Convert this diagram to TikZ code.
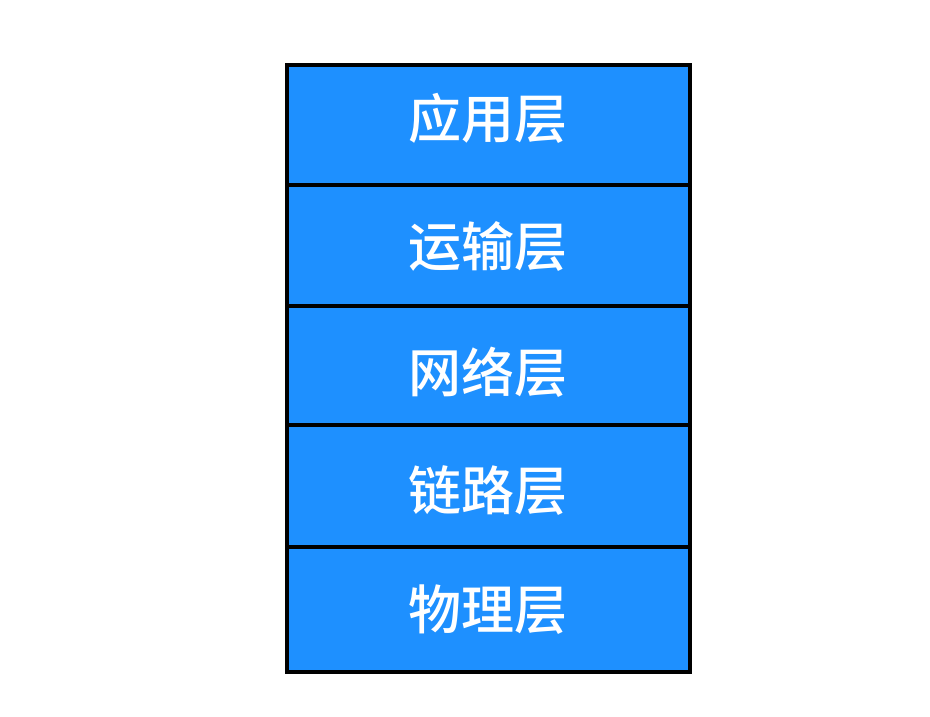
\documentclass[tikz,border=0pt]{standalone}
\usepackage{fontspec}
\usepackage{xcolor}
\usepackage{tikz}
\newfontfamily\cjk{Noto Sans CJK SC Medium}
\definecolor{layerblue}{HTML}{1E90FF}

\begin{document}
\begin{tikzpicture}[x=1pt,y=-1pt,
    layer/.style={draw=black,line width=4pt,fill=layerblue,minimum width=402.7pt,inner sep=0pt},
    layertext/.style={text=white,font=\cjk\fontsize{53}{53}\selectfont,inner sep=0pt}]
    \useasboundingbox (0,0) rectangle (930,716);

    % Layer boxes
    \node[layer,minimum height=119.4pt] (app) at (488.35,125) {};
    \node[layer,minimum height=121pt] (trans) at (488.35,245.2) {};
    \node[layer,minimum height=119pt] (net) at (488.35,365.2) {};
    \node[layer,minimum height=122.3pt] (link) at (488.35,485.85) {};
    \node[layer,minimum height=125pt] (phys) at (488.35,609.5) {};

    % Layer names
    \node[layertext] (appname) at ([yshift=7pt]app.center) {应用层};
    \node[layertext] (transname) at ([yshift=-1.5pt]trans.center) {运输层};
    \node[layertext] (netname) at ([yshift=-7pt]net.center) {网络层};
    \node[layertext] (linkname) at ([yshift=-4.5pt]link.center) {链路层};
    \node[layertext] (physname) at ([yshift=0pt]phys.center) {物理层};
\end{tikzpicture}
\end{document}
